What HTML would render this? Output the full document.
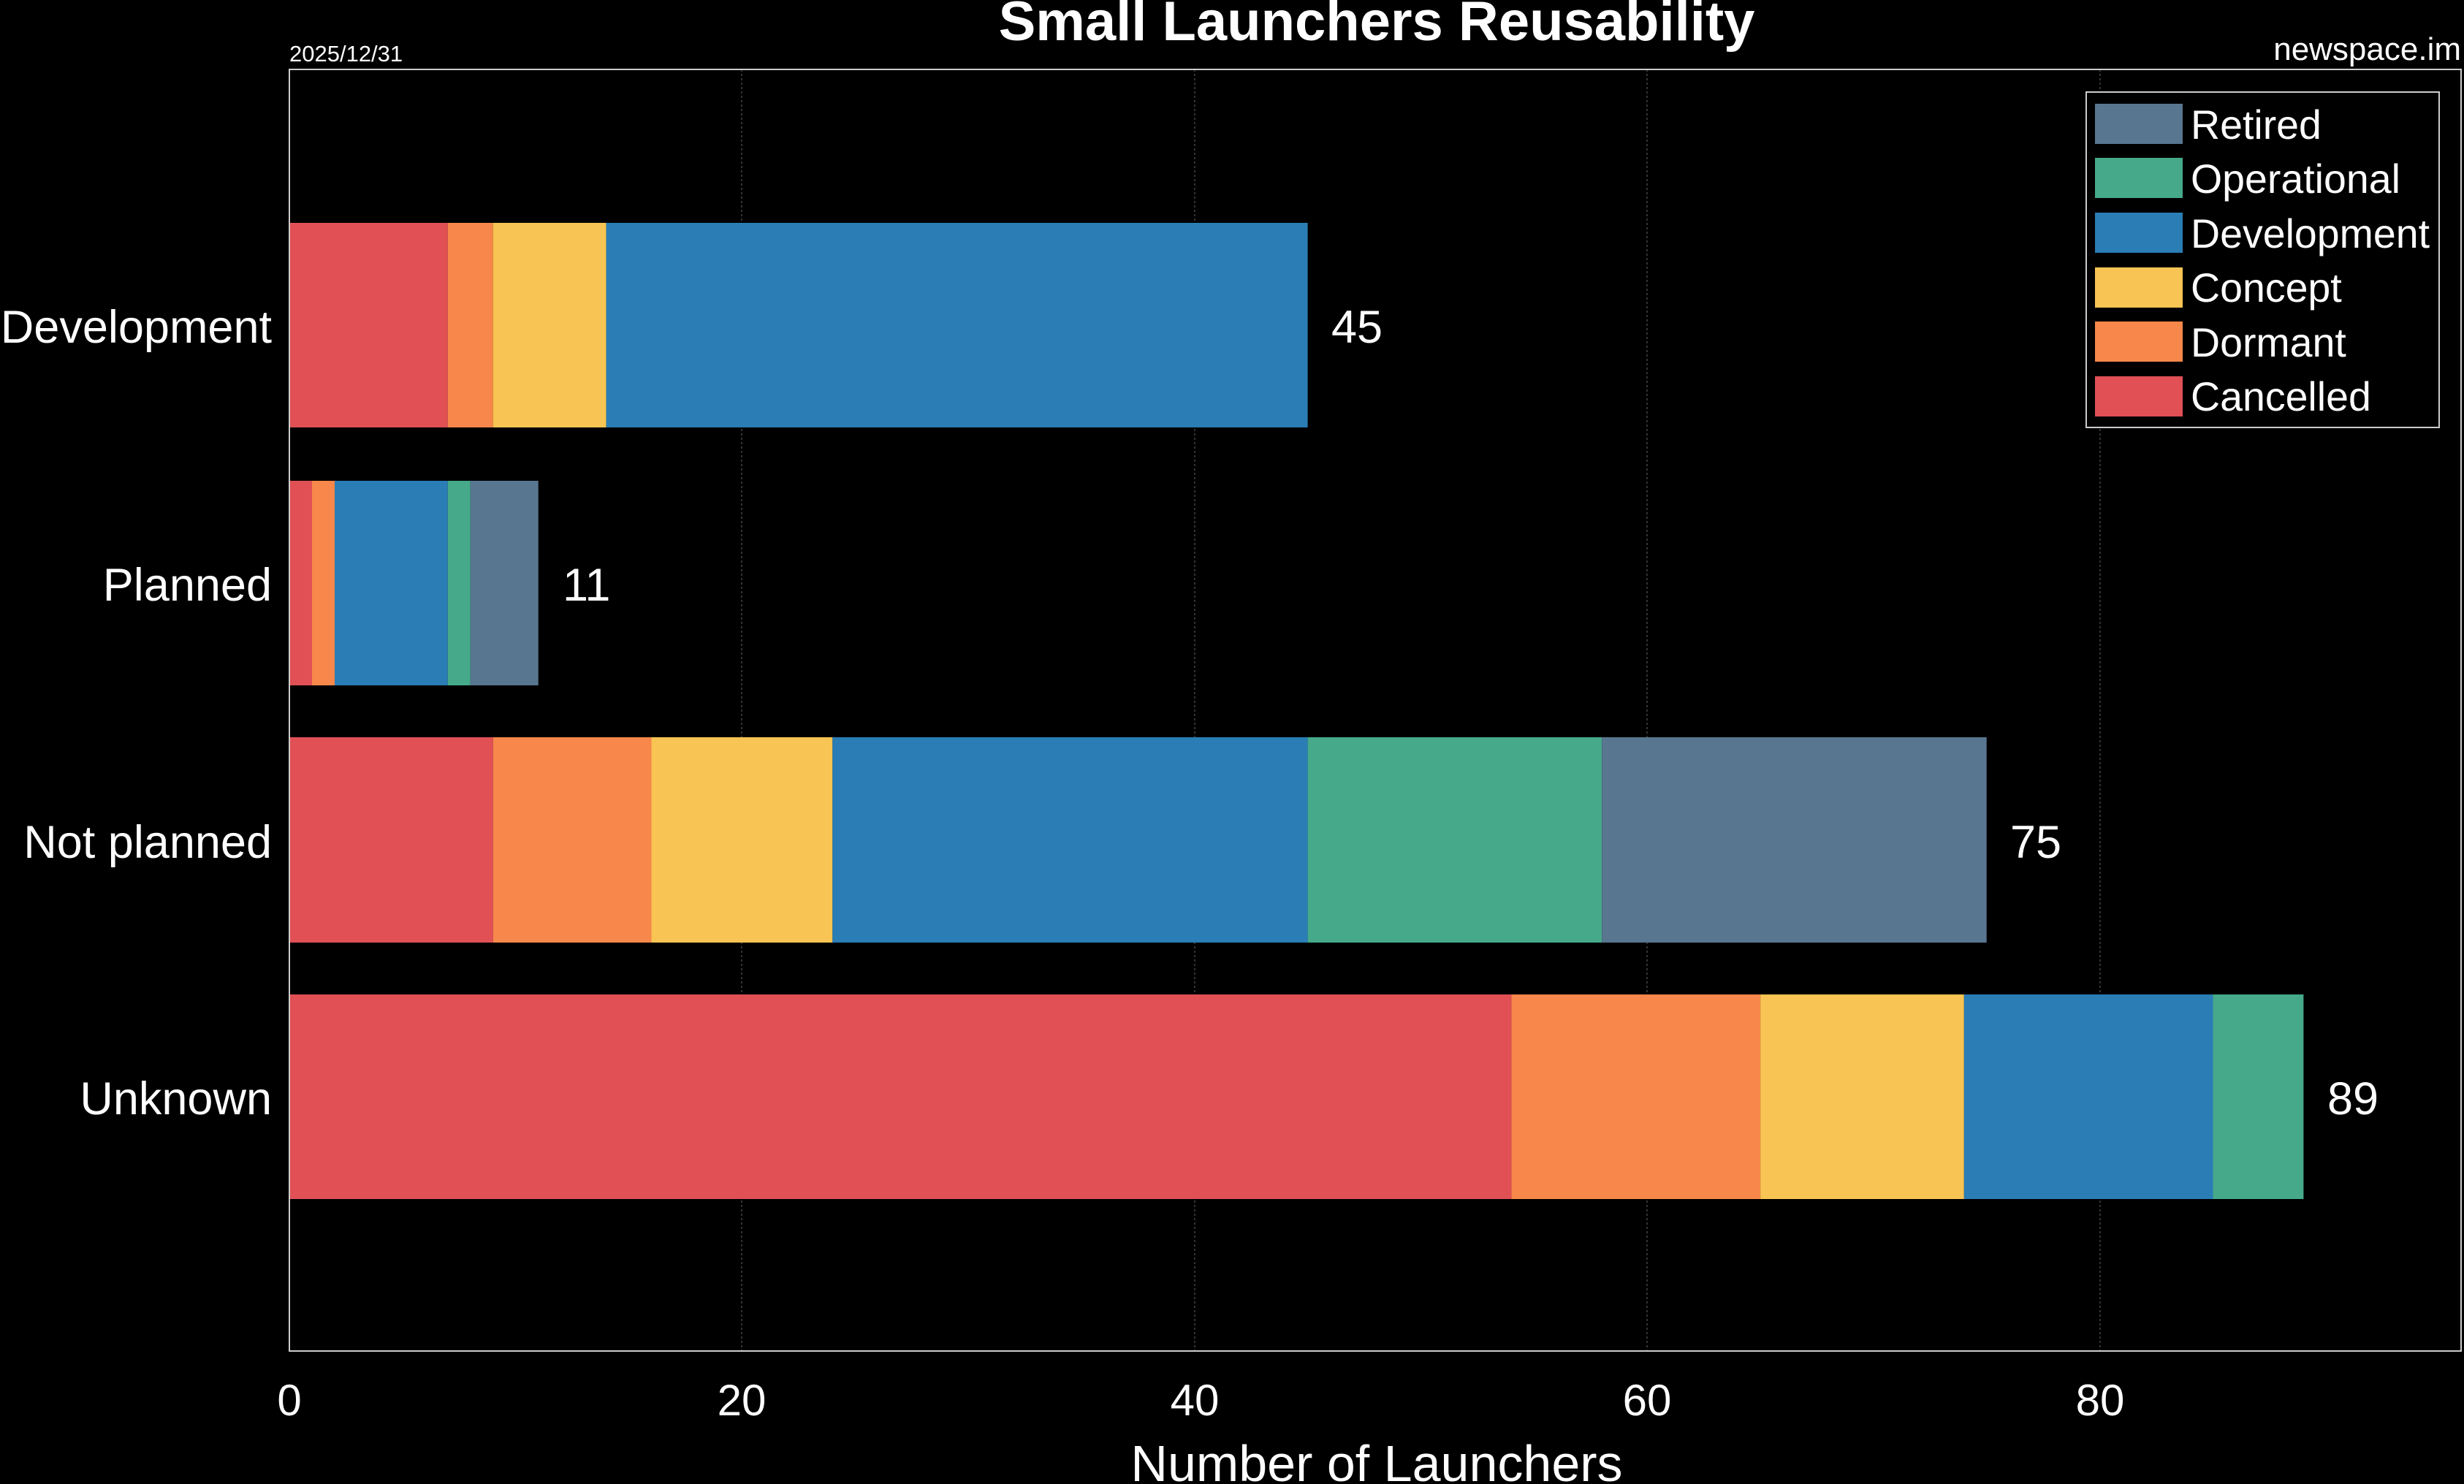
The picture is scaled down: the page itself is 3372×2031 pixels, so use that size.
<!DOCTYPE html>
<html><head><meta charset="utf-8"><style>
html,body{margin:0;padding:0;background:#000;}
svg{display:block;font-family:"Liberation Sans",Arial,sans-serif;}
</style></head><body>
<svg width="3372" height="2031" viewBox="0 0 3372 2031" xmlns="http://www.w3.org/2000/svg">
<rect width="3372" height="2031" fill="#000"/>
<g stroke="#333" stroke-width="2" stroke-dasharray="3,3">
<line x1="1015" y1="95" x2="1015" y2="1849"/>
<line x1="1635" y1="95" x2="1635" y2="1849"/>
<line x1="2254" y1="95" x2="2254" y2="1849"/>
<line x1="2874" y1="95" x2="2874" y2="1849"/>
</g>
<rect x="396" y="305" width="216.8" height="280" fill="#e05055"/>
<rect x="612.8" y="305" width="61.9" height="280" fill="#f7874a"/>
<rect x="674.7" y="305" width="154.9" height="280" fill="#f8c453"/>
<rect x="829.6" y="305" width="960" height="280" fill="#2a7db5"/>
<rect x="396" y="658" width="31" height="280" fill="#e05055"/>
<rect x="427" y="658" width="31" height="280" fill="#f7874a"/>
<rect x="458" y="658" width="154.8" height="280" fill="#2a7db5"/>
<rect x="612.8" y="658" width="31" height="280" fill="#45a98a"/>
<rect x="643.8" y="658" width="92.9" height="280" fill="#587690"/>
<rect x="396" y="1009" width="278.7" height="281" fill="#e05055"/>
<rect x="674.7" y="1009" width="216.8" height="281" fill="#f7874a"/>
<rect x="891.5" y="1009" width="247.8" height="281" fill="#f8c453"/>
<rect x="1139.3" y="1009" width="650.3" height="281" fill="#2a7db5"/>
<rect x="1789.6" y="1009" width="402.6" height="281" fill="#45a98a"/>
<rect x="2192.2" y="1009" width="526.5" height="281" fill="#587690"/>
<rect x="396" y="1361" width="1672.4" height="280" fill="#e05055"/>
<rect x="2068.4" y="1361" width="340.7" height="280" fill="#f7874a"/>
<rect x="2409.1" y="1361" width="278.7" height="280" fill="#f8c453"/>
<rect x="2687.8" y="1361" width="340.7" height="280" fill="#2a7db5"/>
<rect x="3028.5" y="1361" width="123.9" height="280" fill="#45a98a"/>
<rect x="396" y="95" width="2972" height="1754" fill="none" stroke="#ccc" stroke-width="2"/>
<g fill="#fff" font-size="63">
<text x="372" y="469" text-anchor="end">Development</text>
<text x="372" y="822" text-anchor="end">Planned</text>
<text x="372" y="1174" text-anchor="end">Not planned</text>
<text x="372" y="1525" text-anchor="end">Unknown</text>
<text x="1822" y="469">45</text>
<text x="770" y="822">11</text>
<text x="2751" y="1174">75</text>
<text x="3185" y="1525">89</text>
<text x="396" y="1937" text-anchor="middle" font-size="60">0</text>
<text x="1015" y="1937" text-anchor="middle" font-size="60">20</text>
<text x="1635" y="1937" text-anchor="middle" font-size="60">40</text>
<text x="2254" y="1937" text-anchor="middle" font-size="60">60</text>
<text x="2874" y="1937" text-anchor="middle" font-size="60">80</text>
<text x="1884" y="2027" text-anchor="middle" font-size="70">Number of Launchers</text>
<text x="1884" y="55" text-anchor="middle" font-size="76" font-weight="bold">Small Launchers Reusability</text>
<text x="396" y="84" font-size="31">2025/12/31</text>
<text x="3368" y="82" font-size="44" text-anchor="end">newspace.im</text>
</g>
<rect x="2855" y="126" width="483" height="459" fill="#000" stroke="#ccc" stroke-width="2"/>
<g font-size="55.5" fill="#fff">
<rect x="2867" y="142" width="120" height="55" fill="#587690"/><text x="2998" y="190">Retired</text>
<rect x="2867" y="216" width="120" height="55" fill="#45a98a"/><text x="2998" y="264">Operational</text>
<rect x="2867" y="291" width="120" height="55" fill="#2a7db5"/><text x="2998" y="339">Development</text>
<rect x="2867" y="366" width="120" height="55" fill="#f8c453"/><text x="2998" y="413">Concept</text>
<rect x="2867" y="440" width="120" height="55" fill="#f7874a"/><text x="2998" y="488">Dormant</text>
<rect x="2867" y="515" width="120" height="55" fill="#e05055"/><text x="2998" y="562">Cancelled</text>
</g>
</svg>
</body></html>
